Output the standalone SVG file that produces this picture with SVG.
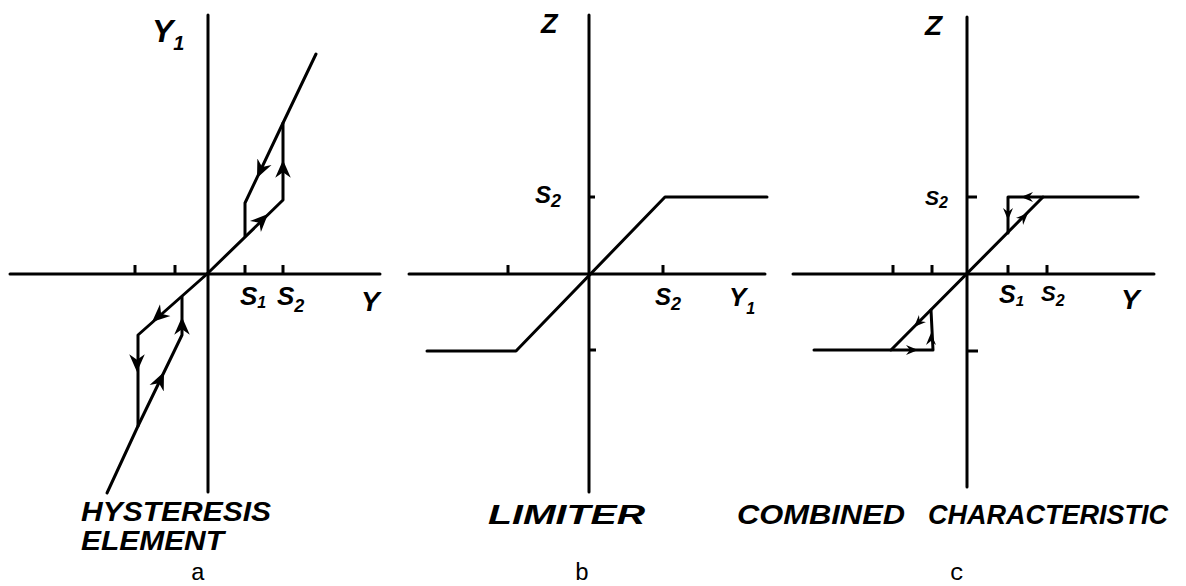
<svg xmlns="http://www.w3.org/2000/svg" width="1186" height="586" viewBox="0 0 1186 586">
<style>
.ax{stroke:#000;stroke-width:3;fill:none;stroke-linecap:round}
.cv{stroke:#000;stroke-width:3;fill:none;stroke-linejoin:round;stroke-linecap:round}
.tk{stroke:#000;stroke-width:3;fill:none}
.hand{font-family:"Liberation Sans",Arial,sans-serif;font-weight:bold;font-style:italic;fill:#000}
.cap{font-family:"Liberation Mono","Courier New",monospace;font-size:24px;fill:#000}
.arr{stroke:none;fill:none}
</style>
<defs>
<marker id="ah" markerUnits="userSpaceOnUse" markerWidth="20" markerHeight="20" refX="16" refY="8" orient="auto" viewBox="0 0 18 16">
<path d="M0 1 L16 8 L0 15 L5 8 Z" fill="#000"/>
</marker>
<marker id="ahs" markerUnits="userSpaceOnUse" markerWidth="14" markerHeight="14" refX="12" refY="6" orient="auto" viewBox="0 0 14 12">
<path d="M0 1 L12 6 L0 11 L4 6 Z" fill="#000"/>
</marker>
</defs>

<g id="panel-a">
<path class="ax" d="M208 15 L208 492"/>
<path class="ax" d="M10 274 L380 274"/>
<path class="tk" d="M135 274 L135 265 M175 274 L175 265 M245 274 L245 265 M283 274 L283 265"/>
<path class="cv" d="M316 54 L283 123 L245 203 L245 236"/>
<path class="cv" d="M207 274 L283 200 L283 123"/>
<path class="cv" d="M207 274 L138 335 L138 426"/>
<path class="cv" d="M107 493 L138 426 L182 335 L182 297"/>
<path class="arr" marker-end="url(#ah)" d="M263 165 L257 178"/>
<path class="arr" marker-end="url(#ah)" d="M283 175 L283 160"/>
<path class="arr" marker-end="url(#ah)" d="M258 224 L268 214"/>
<path class="arr" marker-end="url(#ah)" d="M162 313 L152 322"/>
<path class="arr" marker-end="url(#ah)" d="M137 358 L137 372"/>
<path class="arr" marker-end="url(#ah)" d="M159 383 L164 372"/>
<path class="arr" marker-end="url(#ah)" d="M182 330 L182 317"/>
<text class="hand" x="152" y="42" font-size="32">Y<tspan font-size="20" dy="8">1</tspan></text>
<text class="hand" x="240" y="305" font-size="26">S<tspan font-size="16" dy="3">1</tspan></text>
<text class="hand" x="277" y="305" font-size="26">S<tspan font-size="18" dy="7">2</tspan></text>
<text class="hand" x="361" y="311" font-size="28">Y</text>
<text class="hand" x="81" y="521" font-size="27" textLength="190" lengthAdjust="spacingAndGlyphs">HYSTERESIS</text>
<text class="hand" x="81" y="550" font-size="27" textLength="143" lengthAdjust="spacingAndGlyphs">ELEMENT</text>
<text class="cap" x="198" y="580" text-anchor="middle">a</text>
</g>

<g id="panel-b">
<path class="ax" d="M589 15 L589 492"/>
<path class="ax" d="M409 274 L765 274"/>
<path class="tk" d="M508 274 L508 265 M663 274 L663 265 M589 197 L595 197 M589 350 L596 350"/>
<path class="cv" d="M767 197 L665 197 L516 351 L427 351"/>
<text class="hand" x="541" y="33" font-size="27">Z</text>
<text class="hand" x="535" y="203" font-size="24">S<tspan font-size="18" dy="4">2</tspan></text>
<text class="hand" x="655" y="305" font-size="24">S<tspan font-size="18" dy="5">2</tspan></text>
<text class="hand" x="729" y="306" font-size="26">Y<tspan font-size="16" dy="8">1</tspan></text>
<text class="hand" x="488" y="524" font-size="27" textLength="157" lengthAdjust="spacingAndGlyphs">LIMITER</text>
<text class="cap" x="582" y="580" text-anchor="middle">b</text>
</g>

<g id="panel-c">
<path class="ax" d="M967 17 L967 487"/>
<path class="ax" d="M793 274 L1154 274"/>
<path class="tk" d="M893 274 L893 265 M932 274 L932 265 M1008 274 L1008 265 M1047 274 L1047 265 M967 197 L977 197 M967 351 L978 351"/>
<path class="cv" d="M1138 197 L1043 197 L891 350 L814 350"/>
<path class="cv" d="M1043 197 L1008 197 L1008 233"/>
<path class="cv" d="M891 350 L933 350 L931 310"/>
<path class="arr" marker-end="url(#ahs)" d="M1032 197 L1021 197"/>
<path class="arr" marker-end="url(#ahs)" d="M1008 208 L1008 220"/>
<path class="arr" marker-end="url(#ahs)" d="M1020 221 L1028 213"/>
<path class="arr" marker-end="url(#ahs)" d="M922 319 L914 327"/>
<path class="arr" marker-end="url(#ahs)" d="M931 344 L931 333"/>
<path class="arr" marker-end="url(#ahs)" d="M907 350 L918 350"/>
<text class="hand" x="925" y="35" font-size="28">Z</text>
<text class="hand" x="925" y="205" font-size="21">S<tspan font-size="16" dy="3">2</tspan></text>
<text class="hand" x="999" y="303" font-size="25">S<tspan font-size="15" dy="3">1</tspan></text>
<text class="hand" x="1041" y="301" font-size="22">S<tspan font-size="16" dy="5">2</tspan></text>
<text class="hand" x="1121" y="309" font-size="28">Y</text>
<text class="hand" x="737" y="524" font-size="27" textLength="168" lengthAdjust="spacingAndGlyphs">COMBINED</text>
<text class="hand" x="928" y="524" font-size="27" textLength="240" lengthAdjust="spacingAndGlyphs">CHARACTERISTIC</text>
<text class="cap" x="957" y="580" text-anchor="middle">c</text>
</g>
</svg>
